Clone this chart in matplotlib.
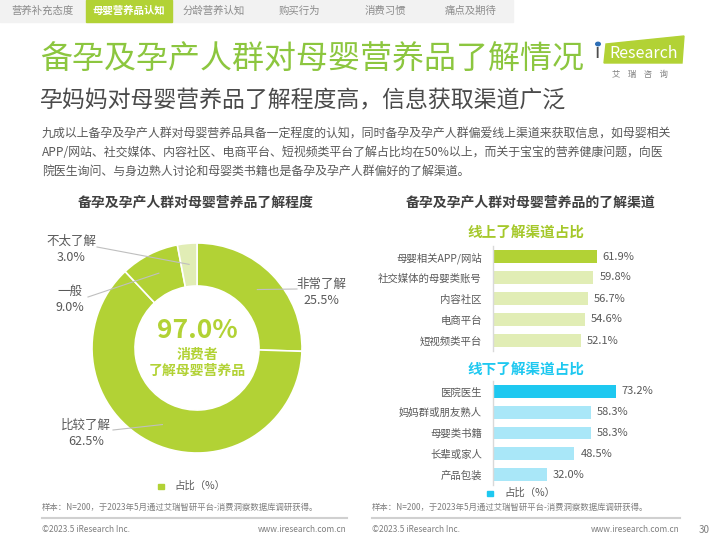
import numpy as np
import matplotlib
matplotlib.use("Agg")
import matplotlib.pyplot as plt
from matplotlib.patches import Rectangle, Polygon, Circle

plt.rcParams['font.family'] = ['Noto Sans CJK SC', 'DejaVu Sans']

# data
tabs = ['营养补充态度', '母婴营养品认知', '分龄营养认知', '购买行为', '消费习惯', '痛点及期待']
donut_labels = ['非常了解', '比较了解', '一般', '不太了解']
donut_values = [25.5, 62.5, 9.0, 3.0]
online_labels = ['母婴相关APP/网站', '社交媒体的母婴类账号', '内容社区', '电商平台', '短视频类平台']
online_values = [61.9, 59.8, 56.7, 54.6, 52.1]
offline_labels = ['医院医生', '妈妈群或朋友熟人', '母婴类书籍', '长辈或家人', '产品包装']
offline_values = [73.2, 58.3, 58.3, 48.5, 32.0]

GREEN = '#b2d235'
LIGHT_GREEN = '#e1edb5'
CYAN = '#1ec8f0'
LIGHT_CYAN = '#a9e7f8'
TITLE_GREEN = '#8cc63f'
GRAY = '#595959'

W, H = 720, 540
fig = plt.figure(figsize=(7.2, 5.4), dpi=100)


def px(x):
    return x / W


def py(y):
    return 1 - y / H


def ftext(x, y, s, **kw):
    fig.text(px(x), py(y), s, **kw)


# tab bar
fig.patches.append(Rectangle((0, py(22)), px(513), 22 / H, transform=fig.transFigure,
                             color='#f2f2f2', zorder=0))
for i, t in enumerate(tabs):
    cx = 43 + i * 85.5
    if i == 1:
        fig.patches.append(Rectangle((px(cx - 43), py(22)), px(86), 22 / H,
                                     transform=fig.transFigure, color=GREEN, zorder=1))
        ftext(cx, 11, t, ha='center', va='center', fontsize=7.5, color='white',
              fontweight='bold')
    else:
        ftext(cx, 11, t, ha='center', va='center', fontsize=7.5, color='#8c8c8c')

# titles
ftext(40, 60, '备孕及孕产人群对母婴营养品了解情况', ha='left', va='center',
      fontsize=23, color=TITLE_GREEN)
ftext(40, 101, '孕妈妈对母婴营养品了解程度高，信息获取渠道广泛', ha='left', va='center',
      fontsize=16.5, color='#4a4a4a')
body = ['九成以上备孕及孕产人群对母婴营养品具备一定程度的认知，同时备孕及孕产人群偏爱线上渠道来获取信息，如母婴相关',
        'APP/网站、社交媒体、内容社区、电商平台、短视频类平台了解占比均在50%以上，而关于宝宝的营养健康问题，向医',
        '院医生询问、与身边熟人讨论和母婴类书籍也是备孕及孕产人群偏好的了解渠道。']
for i, line in enumerate(body):
    ftext(42, 133 + i * 19, line, ha='left', va='center', fontsize=8.6, color=GRAY)

# logo
fig.patches.append(Polygon([(px(606), py(44)), (px(684), py(36)), (px(682), py(63)),
                            (px(604), py(63))], closed=True, transform=fig.transFigure,
                           color=GREEN, zorder=1))
ftext(595, 53, 'i', ha='left', va='center', fontsize=14, color='#4d4d4d', zorder=2)
ftext(609, 53, 'Research', ha='left', va='center', fontsize=11.5, color='white', zorder=2)
fig.patches.append(Circle((px(598), py(44)), 2.3 / W, transform=fig.transFigure,
                          color='#2e6fb7', zorder=3))
ftext(640, 74, '艾    瑞    咨    询', ha='center', va='center', fontsize=6,
      color='#7f7f7f')

# panel titles
ftext(196, 203, '备孕及孕产人群对母婴营养品了解程度', ha='center', va='center',
      fontsize=10, fontweight='bold', color='#404040')
ftext(531, 203, '备孕及孕产人群对母婴营养品的了解渠道', ha='center', va='center',
      fontsize=10, fontweight='bold', color='#404040')

# donut
cx, cy = 197, 348
ax = fig.add_axes([px(cx - 120), py(cy + 120), 240 / W, 240 / H])
colors = [GREEN, GREEN, GREEN, LIGHT_GREEN]
ax.pie(donut_values, radius=105, startangle=90, counterclock=False, colors=colors,
       wedgeprops=dict(width=43, edgecolor='white', linewidth=1.2))
ax.set_xlim(-120, 120)
ax.set_ylim(-120, 120)
ax.set_aspect('equal')
ax.axis('off')

line_ends = [(100, 59), (-84, -82), (-109, 51), (-100, 101)]
text_pos = [(124, 56), (-111, -85), (-127, 49), (-126, 99)]
cum = np.cumsum([0] + donut_values[:-1])
for i, v in enumerate(donut_values):
    ang = np.deg2rad(90 - (cum[i] + v / 2) * 3.6)
    x0, y0 = 84 * np.cos(ang), 84 * np.sin(ang)
    ax.plot([x0, line_ends[i][0]], [y0, line_ends[i][1]], color='#bfbfbf', lw=0.8,
            clip_on=False)
    ax.text(text_pos[i][0], text_pos[i][1], f'{donut_labels[i]}\n{v:.1f}%', ha='center',
            va='center', fontsize=9, color=GRAY, linespacing=1.3, clip_on=False)

ax.text(0, 18, f'{sum(donut_values[:3]):.1f}%', ha='center', va='center', fontsize=19,
        fontweight='bold', color=GREEN)
ax.text(0, -7, '消费者', ha='center', va='center', fontsize=10, fontweight='bold',
        color=GREEN)
ax.text(0, -23, '了解母婴营养品', ha='center', va='center', fontsize=10,
        fontweight='bold', color=GREEN)

# left legend
fig.patches.append(Rectangle((px(158), py(489)), 5.5 / W, 5.5 / H,
                             transform=fig.transFigure, color=GREEN))
ftext(174, 486, '占比（%）', ha='left', va='center', fontsize=7.5, color=GRAY)

# bars
scale = 1.68  # px per percent
ax_w = 200


def bar_panel(top, bottom, labels, values, main, light):
    bax = fig.add_axes([px(493), py(bottom), ax_w / W, (bottom - top) / H])
    ys = np.arange(len(values))
    cols = [main] + [light] * (len(values) - 1)
    bax.barh(ys, values, height=0.62, color=cols)
    bax.set_xlim(0, ax_w / scale)
    bax.set_ylim(len(values) - 0.5, -0.5)
    for s in ['top', 'right', 'bottom']:
        bax.spines[s].set_visible(False)
    bax.spines['left'].set_color('#d9d9d9')
    bax.spines['left'].set_linewidth(1)
    bax.set_xticks([])
    bax.set_yticks(ys)
    bax.set_yticklabels(labels, fontsize=7.5, color=GRAY)
    bax.tick_params(axis='y', length=0, pad=8)
    for y, v in zip(ys, values):
        bax.text(v + 3.5, y, f'{v:.1f}%', ha='left', va='center', fontsize=8, color=GRAY)
    bax.patch.set_alpha(0)
    return bax


bar_panel(246, 351, online_labels, online_values, GREEN, LIGHT_GREEN)
bar_panel(381, 485, offline_labels, offline_values, CYAN, LIGHT_CYAN)

ftext(526, 233, '线上了解渠道占比', ha='center', va='center', fontsize=10.5,
      fontweight='bold', color='#a5c82a')
ftext(526, 370, '线下了解渠道占比', ha='center', va='center', fontsize=10.5,
      fontweight='bold', color=CYAN)

fig.patches.append(Rectangle((px(487), py(496)), 5.5 / W, 5.5 / H,
                             transform=fig.transFigure, color=CYAN))
ftext(504, 493, '占比（%）', ha='left', va='center', fontsize=7.5, color=GRAY)

# footnotes and footer
note = '样本：N=200，于2023年5月通过艾瑞智研平台-消费洞察数据库调研获得。'
for x0, x1 in [(42, 347), (372, 680)]:
    ftext(x0, 507, note, ha='left', va='center', fontsize=6, color='#7f7f7f')
    fig.add_artist(plt.Line2D([px(x0), px(x1)], [py(518), py(518)], color='#d0d0d0',
                              lw=1.5, transform=fig.transFigure))
    ftext(x0, 530, '©2023.5 iResearch Inc.', ha='left', va='center', fontsize=6,
          color='#7f7f7f')
    ftext(x1, 530, 'www.iresearch.com.cn', ha='right', va='center', fontsize=6,
          color='#7f7f7f')
ftext(704, 530, '30', ha='center', va='center', fontsize=7, color='#7f7f7f')

fig.savefig('out.png', dpi=100)
